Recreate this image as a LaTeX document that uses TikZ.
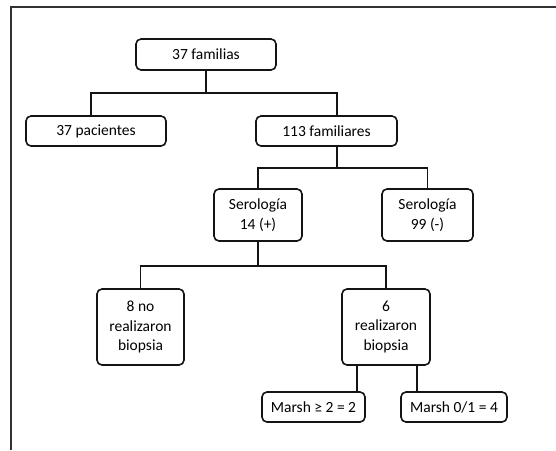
\documentclass[tikz,border=0pt]{standalone}
\usepackage{fontspec}
\setmainfont{Carlito}
\usepackage{tikz}
\usetikzlibrary{positioning,calc}
\definecolor{boxline}{RGB}{20,20,20}
\definecolor{frameline}{RGB}{50,50,50}

\begin{document}
\begin{tikzpicture}[
  x=1pt, y=1pt,
  font=\fontsize{15.5}{19.5}\selectfont,
  bx/.style={draw=boxline, line width=1.6pt, rounded corners=5pt,
    inner sep=2pt, align=center, fill=white},
  ln/.style={draw=boxline, line width=1.6pt},
  fr/.style={draw=frameline, line width=1.5pt},
]
\useasboundingbox (0,0) rectangle (556,-450);
% frame
\draw[fr] (11,-450) -- (11,-7) -- (556,-7);
% boxes
\node[bx, minimum width=140, minimum height=31] (fam) at (206,-54.5) {37 familias};
\node[bx, minimum width=140, minimum height=30] (pac) at (96,-131) {37 pacientes};
\node[bx, minimum width=141, minimum height=30] (fami) at (326.5,-131) {113 familiares};
\node[bx, minimum width=88, minimum height=52] (spos) at (258,-215) {Serología\\14 (+)};
\node[bx, minimum width=91, minimum height=52] (sneg) at (427.5,-215) {Serología\\99 (-)};
\node[bx, minimum width=87, minimum height=76] (nobio) at (140.5,-327) {8 no\\realizaron\\biopsia};
\node[bx, minimum width=88, minimum height=76] (sibio) at (386,-327) {6\\realizaron\\biopsia};
\node[bx, minimum width=103, minimum height=30] (mtwo) at (313.5,-407) {Marsh ≥ 2 = 2};
\node[bx, minimum width=106, minimum height=30] (mone) at (454,-407) {Marsh 0/1 = 4};
% connectors
\draw[ln] (fam.south) -- ++(0,-22) -| ([xshift=-5]pac.north);
\draw[ln] (fam.south) -- ++(0,-22) -| ([xshift=10.5]fami.north);
\draw[ln] ([xshift=10.5]fami.south) -- ++(0,-21) -| (spos.north);
\draw[ln] ([xshift=10.5]fami.south) -- ++(0,-21) -| (sneg.north);
\draw[ln] (spos.south) -- ++(0,-24) -| (nobio.north);
\draw[ln] (spos.south) -- ++(0,-24) -| (sibio.north);
\draw[ln] ([xshift=-29]sibio.south) -- ([xshift=-29]sibio.south |- mtwo.north);
\draw[ln] ([xshift=31]sibio.south) -- ([xshift=31]sibio.south |- mone.north);
\end{tikzpicture}
\end{document}
